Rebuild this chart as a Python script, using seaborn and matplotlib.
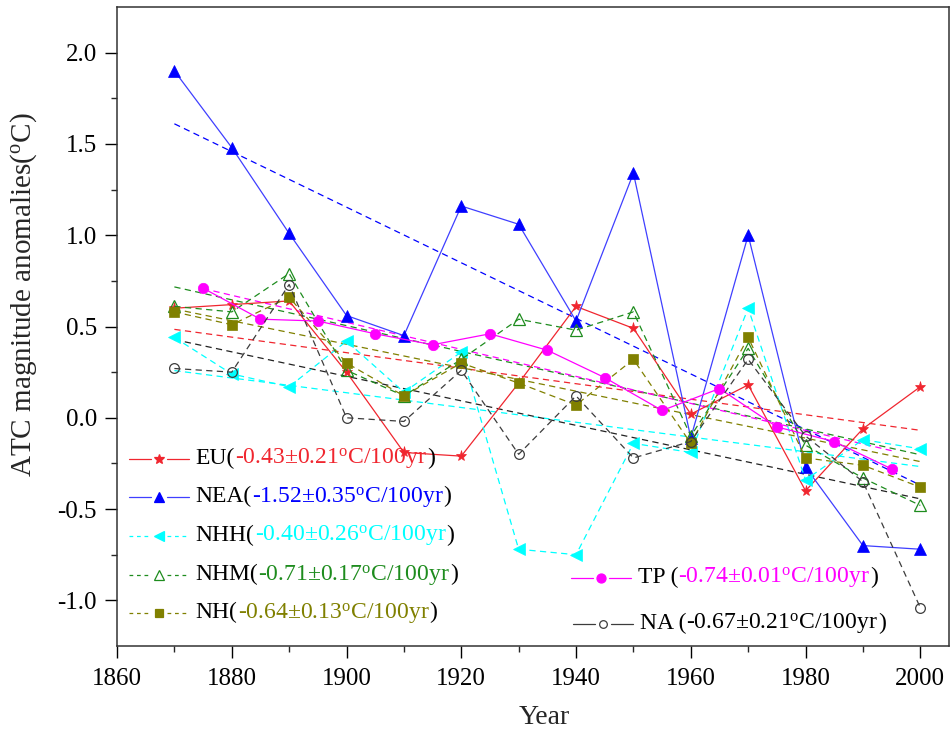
import numpy as np
import pandas as pd
import matplotlib
matplotlib.use("Agg")
import matplotlib.pyplot as plt
import seaborn as sns
from matplotlib.lines import Line2D
from matplotlib.offsetbox import TextArea, HPacker, DrawingArea, AnchoredOffsetbox

# Decadal ATC magnitude anomalies (degC)
decades = [1870, 1880, 1890, 1900, 1910, 1920, 1930, 1940, 1950, 1960, 1970, 1980, 1990, 2000]
tp_years = [1875, 1885, 1895, 1905, 1915, 1925, 1935, 1945, 1955, 1965, 1975, 1985, 1995]

eu = [0.60, 0.62, 0.64, 0.25, -0.19, -0.21, 0.19, 0.61, 0.49, 0.02, 0.18, -0.40, -0.06, 0.17]
nea = [1.90, 1.48, 1.01, 0.56, 0.45, 1.16, 1.06, 0.53, 1.34, -0.11, 1.00, -0.27, -0.70, -0.72]
nhh = [0.44, 0.24, 0.17, 0.42, 0.14, 0.36, -0.72, -0.75, -0.14, -0.19, 0.60, -0.34, -0.12, -0.17]
nhm = [0.61, 0.58, 0.79, 0.26, 0.12, 0.32, 0.54, 0.48, 0.58, -0.10, 0.38, -0.15, -0.33, -0.48]
nh = [0.58, 0.51, 0.66, 0.30, 0.12, 0.30, 0.19, 0.07, 0.32, -0.14, 0.44, -0.22, -0.26, -0.38]
na = [0.27, 0.25, 0.73, 0.00, -0.02, 0.26, -0.20, 0.12, -0.22, -0.13, 0.32, -0.10, -0.35, -1.04]
tp = [0.71, 0.54, 0.53, 0.46, 0.40, 0.46, 0.37, 0.22, 0.04, 0.16, -0.05, -0.13, -0.28]

region_names = ["EU", "NEA", "NHH", "NHM", "NH", "TP", "NA"]
trend_text = ["-0.43\u00b10.21", "-1.52\u00b10.35", "-0.40\u00b10.26", "-0.71\u00b10.17",
              "-0.64\u00b10.13", "-0.74\u00b10.01", "-0.67\u00b10.21"]

sns.set_style("ticks")
plt.rcParams["font.family"] = ["Liberation Serif", "DejaVu Serif"]
plt.rcParams["mathtext.fontset"] = "custom"
plt.rcParams["mathtext.rm"] = "Liberation Serif"
plt.rcParams["mathtext.it"] = "Liberation Serif:italic"
plt.rcParams["axes.unicode_minus"] = False

RED = "#f0262f"
BLUE = "#0000ff"
BLUE_LINE = "#3f3fff"
CYAN = "#00ffff"
GREEN = "#1e8c1e"
OLIVE = "#808000"
MAGENTA = "#ff00ff"
GREY = "#3c3c3c"

DASH = (0, (5, 3.5))

W, H = 952, 733
fig = plt.figure(figsize=(W / 100, H / 100), dpi=100)
ax = fig.add_axes([117 / W, 1 - 646 / H, (949 - 117) / W, (646 - 7) / H])

series = [
    # name, x, y, colour, line colour, linestyle, marker, marker face, marker size
    ("EU", decades, eu, RED, RED, "-", "*", RED, 8),
    ("NEA", decades, nea, BLUE, BLUE_LINE, "-", "^", BLUE, 8.5),
    ("NHH", decades, nhh, CYAN, CYAN, DASH, "<", CYAN, 8.5),
    ("NHM", decades, nhm, GREEN, GREEN, DASH, "^", "none", 8.5),
    ("NH", decades, nh, OLIVE, OLIVE, DASH, "s", OLIVE, 7),
    ("TP", tp_years, tp, MAGENTA, MAGENTA, "-", "o", MAGENTA, 7.5),
    ("NA", decades, na, GREY, GREY, DASH, "o", "none", 7),
]

trend_colours = {"EU": RED, "NEA": BLUE, "NHH": CYAN, "NHM": GREEN,
                 "NH": OLIVE, "TP": MAGENTA, "NA": "#222222"}

# Linear trends of each series
for name, x, y, c, lc, ls, mk, mfc, ms in series:
    sns.regplot(x=np.array(x, float), y=np.array(y, float), ax=ax, scatter=False, ci=None,
                color=trend_colours[name], truncate=True,
                line_kws=dict(ls=DASH, lw=0.9))

# Anomaly series
for name, x, y, c, lc, ls, mk, mfc, ms in series:
    df = pd.DataFrame({"year": x, "anom": y})
    sns.lineplot(data=df, x="year", y="anom", ax=ax, color=lc, linestyle=ls, lw=0.9,
                 marker=mk, markersize=ms, markerfacecolor=mfc, markeredgecolor=c,
                 markeredgewidth=0.9 if mfc == "none" else 0.5)

ax.set_xlim(1860, 2005)
ax.set_ylim(-1.25, 2.25)
ax.set_xticks(np.arange(1860, 2001, 20))
ax.set_xticks(np.arange(1860, 2001, 10), minor=True)
ax.set_yticks(np.arange(-1.0, 2.01, 0.5))
ax.set_yticks(np.arange(-0.75, 2.2, 0.5), minor=True)
ax.yaxis.set_major_formatter(matplotlib.ticker.FormatStrFormatter("%.1f"))
ax.tick_params(axis="both", which="major", direction="out", length=8.5, width=1,
               labelsize=18, colors="black")
ax.tick_params(axis="x", which="major", pad=7)
ax.tick_params(axis="y", which="major", pad=6)
ax.tick_params(axis="both", which="minor", direction="out", length=4.5, width=1)
ax.tick_params(top=False, right=False, which="both")
for sp in ax.spines.values():
    sp.set_visible(True)
    sp.set_linewidth(1.1)
    sp.set_color("#333333")

ax.set_xlabel("Year", fontsize=20)
ax.set_ylabel("ATC magnitude anomalies($^{\\mathrm{o}}$C)", fontsize=21)
ax.xaxis.set_label_coords(0.513, -0.093)
ax.yaxis.set_label_coords(-0.094, 0.55)


def legend_row(label, trend, text_colour, line_colour, marker_colour, dashed, marker,
               mfc, ms, x_px, y_px):
    w, h = 43, 12
    da = DrawingArea(w, h, 0, 0)
    seg_ls = (0, (3, 3)) if dashed else "-"
    da.add_artist(Line2D([0, w * 0.36], [h / 2, h / 2], color=line_colour, lw=0.9, ls=seg_ls))
    da.add_artist(Line2D([w * 0.64, w], [h / 2, h / 2], color=line_colour, lw=0.9, ls=seg_ls))
    da.add_artist(Line2D([w / 2], [h / 2], marker=marker, color=marker_colour, mfc=mfc,
                         mec=marker_colour, ms=ms, ls="none", mew=0.9))
    props = dict(fontsize=17)
    t1 = TextArea(label + "(", textprops=dict(color="black", **props))
    t2 = TextArea(trend + "$^{\\mathrm{o}}$C/100yr", textprops=dict(color=text_colour, **props))
    t3 = TextArea(")", textprops=dict(color="black", **props))
    txt = HPacker(children=[t1, t2, t3], align="baseline", pad=0, sep=0)
    row = HPacker(children=[da, txt], align="center", pad=0, sep=5)
    box = AnchoredOffsetbox(loc="center left", child=row, pad=0, borderpad=0,
                            frameon=False, bbox_to_anchor=(x_px / W, 1 - y_px / H),
                            bbox_transform=fig.transFigure)
    ax.add_artist(box)


legend_row("EU", trend_text[0], RED, RED, RED, False, "*", RED, 7, 129, 459)
legend_row("NEA", trend_text[1], BLUE, BLUE_LINE, BLUE, False, "^", BLUE, 7, 129, 497)
legend_row("NHH", trend_text[2], CYAN, CYAN, CYAN, True, "<", CYAN, 7, 129, 536)
legend_row("NHM", trend_text[3], GREEN, GREEN, GREEN, True, "^", "none", 7, 129, 575)
legend_row("NH", trend_text[4], OLIVE, OLIVE, OLIVE, True, "s", OLIVE, 5.5, 129, 613)
legend_row("TP ", trend_text[5], MAGENTA, MAGENTA, MAGENTA, False, "o", MAGENTA, 6.5, 571, 578)
legend_row("NA ", trend_text[6], "black", GREY, GREY, False, "o", "none", 5.5, 573, 624)

fig.savefig("out.png", dpi=100)
